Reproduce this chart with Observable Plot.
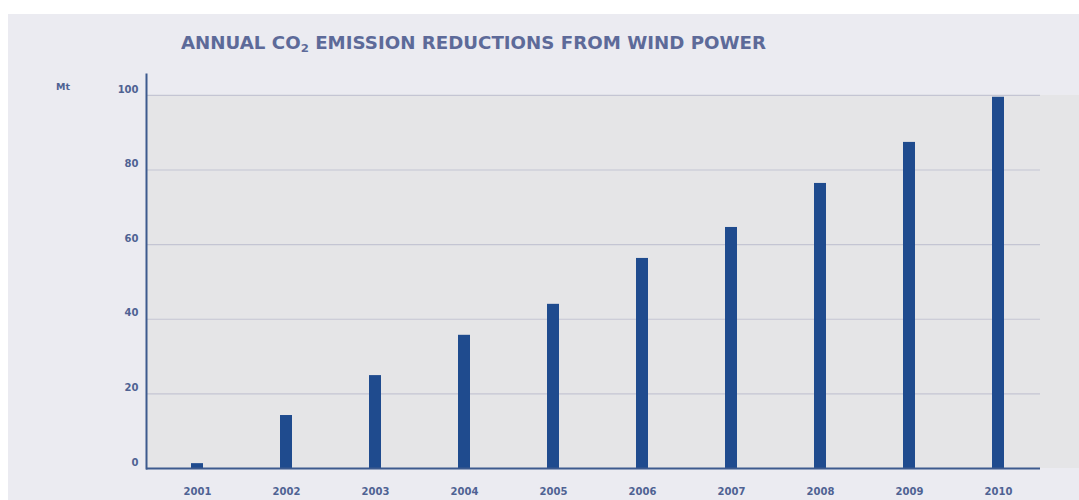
<!DOCTYPE html>
<html>
<head>
<meta charset="utf-8">
<script src="https://cdn.jsdelivr.net/npm/d3@7"></script>
<script src="https://cdn.jsdelivr.net/npm/@observablehq/plot@0.6"></script>
<style>
  html, body { margin: 0; padding: 0; background: #ffffff; width: 1079px; height: 500px; overflow: hidden; }
  #panel { position: absolute; left: 8px; top: 14px; right: 0; bottom: 0; background: #ebebf1; }
  #chart { position: absolute; left: 0; top: 0; }
  #title { position: absolute; left: 181px; top: 33px; margin: 0; font-family: "DejaVu Sans", sans-serif; font-weight: bold; font-size: 17px; color: #5d6a99; white-space: nowrap; transform-origin: left top; }
  #title sub { font-size: 11px; vertical-align: -3px; }
  #unit { position: absolute; left: 56px; top: 81px; font-family: "DejaVu Sans", sans-serif; font-weight: bold; font-size: 9.5px; color: #4f6293; }
</style>
</head>
<body>
<div id="panel"></div>
<div id="chart"></div>
<div id="title">ANNUAL CO<sub>2</sub> EMISSION REDUCTIONS FROM WIND POWER</div>
<div id="unit">Mt</div>
<script>
const years = ["2001","2002","2003","2004","2005","2006","2007","2008","2009","2010"];
const reductions = [1.3, 14.2, 24.9, 35.7, 44.0, 56.3, 64.6, 76.4, 87.4, 99.5];
const yTicks = [0, 20, 40, 60, 80, 100];

const data = years.map((year, i) => ({year, value: reductions[i]}));

const textColor = "#4f6293";

const plot = Plot.plot({
  width: 1079,
  height: 500,
  marginLeft: 146,
  marginRight: 39,
  marginTop: 74,
  marginBottom: 32,
  style: {background: "transparent", fontFamily: "DejaVu Sans, sans-serif", fontWeight: "bold", fontSize: "10px", color: textColor},
  x: {type: "band", domain: years, range: [151.4, 1043.6], paddingInner: 0.866, paddingOuter: 0.433, align: 0.5, label: null},
  y: {domain: [0, 105.6], label: null},
  marks: [
    Plot.rect([{}], {y1: 0, y2: 100, fill: "#e5e5e7", insetRight: -39}),
    Plot.ruleY(yTicks.filter(d => d > 0), {stroke: "#c4c5d3", strokeWidth: 1.2}),
    Plot.barY(data, {x: "year", y: "value", fill: "#1f4b8e"}),
    Plot.ruleY([0], {stroke: "#3d5a8e", strokeWidth: 2.2}),
    Plot.frame({anchor: "left", stroke: "#3d5a8e", strokeWidth: 2}),
    Plot.axisY({ticks: yTicks, tickSize: 0, tickPadding: 8, dy: -6, fill: textColor, fontSize: 10, label: null}),
    Plot.axisX({tickSize: 0, tickPadding: 19, fill: textColor, fontSize: 10, label: null})
  ]
});
document.getElementById("chart").appendChild(plot);

// fit title width to reference span
const t = document.getElementById("title");
const w = t.getBoundingClientRect().width;
t.style.transform = `scaleX(${585 / w})`;
</script>
</body>
</html>
